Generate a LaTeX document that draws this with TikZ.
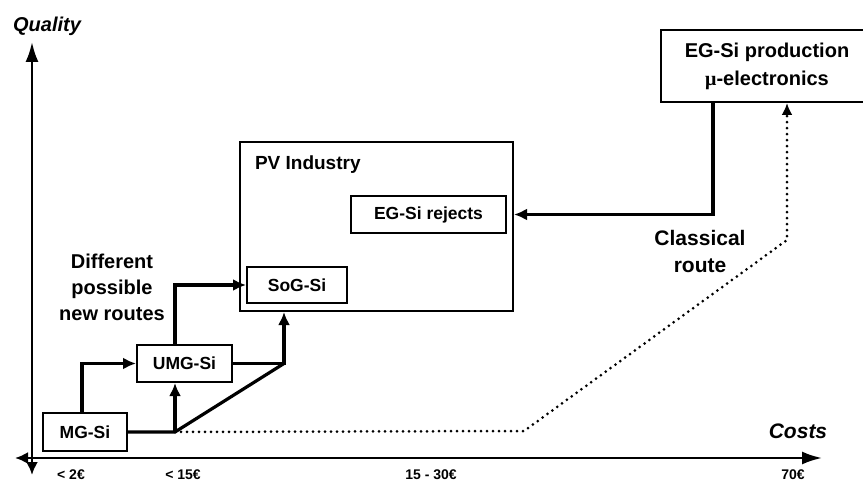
\documentclass[tikz,border=0pt]{standalone}
\usepackage{fontspec}
\setmainfont{Liberation Sans}
\newfontfamily\mufont{Liberation Serif}
\usetikzlibrary{arrows.meta}

\begin{document}
\begin{tikzpicture}[x=1pt,y=-1pt,
  box/.style={draw,line width=2pt,inner sep=0pt,font=\fontsize{17.5}{20}\selectfont\bfseries},
  txt/.style={align=center,font=\fontsize{20}{26}\selectfont\bfseries},
  tick/.style={font=\fontsize{14}{16}\selectfont\bfseries},
  ln/.style={line width=3.2pt,line join=miter},
  arr/.style={ln,-{Latex[length=13pt,width=12pt]}},
  dots/.style={line width=3pt,line cap=round,dash pattern=on 0pt off 6pt,-{Latex[length=12pt,width=11pt]}},
  axis/.style={line width=2.4pt,{Latex[length=13pt,width=12pt]}-{Latex[length=20pt,width=13pt]}}]
\clip (0,0) rectangle (863,484);
% axes
\coordinate (xl) at (15,458); \coordinate (xr) at (822,458);
\coordinate (yb) at (32,475); \coordinate (yt) at (32,42);
\draw[axis] (xl)--(xr); \draw[axis] (yb)--(yt);
\node[font=\fontsize{20}{24}\selectfont\bfseries\itshape] (qual) at (47,26) {Quality};
\node[font=\fontsize{21}{24}\selectfont\bfseries\itshape] (cost) at (798,431) {Costs};
\node[tick] (t1) at (71,475) {< 2€};
\node[tick] (t2) at (183,475) {< 15€};
\node[tick] (t3) at (431,475) {15 - 30€};
\node[tick] (t4) at (793,475) {70€};
% boxes
\node[box,minimum width=273pt,minimum height=169pt] (pv) at (376.5,226.5) {};
\node[box,draw=none,anchor=west,font=\fontsize{19}{22}\selectfont\bfseries] (pvtitle) at (254,165) {PV Industry};
\node[box,minimum width=84pt,minimum height=38pt] (mgsi) at (85,432) {MG-Si};
\node[box,minimum width=95pt,minimum height=37pt] (umgsi) at (184.5,363.5) {UMG-Si};
\node[box,minimum width=100pt,minimum height=36pt] (sogsi) at (297,285) {SoG-Si};
\node[box,minimum width=155pt,minimum height=37pt] (egrej) at (428.5,214.5) {EG-Si rejects};
\node[box,align=center,minimum width=212pt,minimum height=72pt,font=\fontsize{20}{28}\selectfont\bfseries] (egprod) at (767,66)
 {EG-Si production\\{\mufont μ}-electronics};
\node[txt] (newr) at (112,287) {Different\\possible\\new routes};
\node[txt,font=\fontsize{21}{27}\selectfont\bfseries] (clas) at (700,251) {Classical\\route};
% routes
\coordinate (split) at (175,432); \coordinate (bend) at (284,363.5);
\coordinate (c1) at (524,431); \coordinate (c2) at (787,240);
\draw[arr] ([xshift=-3pt]mgsi.north) |- (umgsi.west);
\draw[ln] (mgsi.east)--(split)--(bend);
\draw[arr] (split)--(split |- umgsi.south);
\draw[arr] (umgsi.east) -| (bend |- pv.south);
\draw[arr] (umgsi.north -| split) |- (sogsi.west);
\draw[arr] ([xshift=-54pt]egprod.south) |- (egrej -| pv.east);
\draw[dots] (split)--(c1)--(c2)--(c2 |- egprod.south);
\end{tikzpicture}
\end{document}
